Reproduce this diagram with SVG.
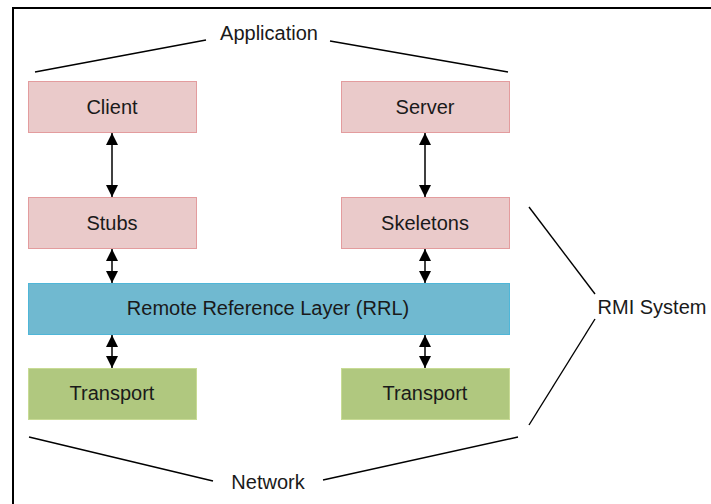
<svg xmlns="http://www.w3.org/2000/svg" width="711" height="504" viewBox="0 0 711 504">
<style>
text{font-family:"Liberation Sans",Arial,sans-serif;font-size:20px;fill:#1a1a1a;text-anchor:middle;dominant-baseline:central}
.pink{fill:#eacaca;stroke:#e39c9e;stroke-width:1}
.blue{fill:#70b9d0;stroke:#4fb6d8;stroke-width:1}
.green{fill:#b0c87f;stroke:#c8db95;stroke-width:1}
.ln{stroke:#000;stroke-width:1.4;fill:none}
.ar{stroke:#000;stroke-width:1.5;fill:none;marker-start:url(#ah);marker-end:url(#ah)}
</style>
<defs>
<marker id="ah" viewBox="0 0 12 12" refX="12" refY="6" markerWidth="12" markerHeight="12" markerUnits="userSpaceOnUse" orient="auto-start-reverse">
<path d="M0,0 L12,6 L0,12 Z" fill="#000"/>
</marker>
</defs>
<rect width="711" height="504" fill="#fff"/>
<path d="M13,504 V8 H711" stroke="#000" stroke-width="2" fill="none"/>
<g id="client"><rect class="pink" x="28.5" y="81.5" width="168" height="51"/><text x="112" y="107">Client</text></g>
<g id="server"><rect class="pink" x="341.5" y="81.5" width="168" height="51"/><text x="425" y="107">Server</text></g>
<g id="stubs"><rect class="pink" x="28.5" y="197.5" width="168" height="51"/><text x="112" y="223">Stubs</text></g>
<g id="skeletons"><rect class="pink" x="341.5" y="197.5" width="168" height="51"/><text x="425" y="223">Skeletons</text></g>
<g id="rrl"><rect class="blue" x="28.5" y="283.5" width="481" height="51"/><text x="268" y="308">Remote Reference Layer (RRL)</text></g>
<g id="transport1"><rect class="green" x="28.5" y="368.5" width="168" height="51"/><text x="112" y="393">Transport</text></g>
<g id="transport2"><rect class="green" x="341.5" y="368.5" width="168" height="51"/><text x="425" y="393">Transport</text></g>
<g id="application"><text x="269" y="33">Application</text></g>
<g id="rmi"><text x="652" y="307">RMI System</text></g>
<g id="network"><text x="268" y="482">Network</text></g>
<g id="connectors">
<line class="ar" x1="112" y1="133" x2="112" y2="197"/>
<line class="ar" x1="425" y1="133" x2="425" y2="197"/>
<line class="ar" x1="112" y1="249" x2="112" y2="283"/>
<line class="ar" x1="425" y1="249" x2="425" y2="283"/>
<line class="ar" x1="112" y1="335" x2="112" y2="368"/>
<line class="ar" x1="425" y1="335" x2="425" y2="368"/>
<line class="ln" x1="35" y1="72" x2="206" y2="40"/>
<line class="ln" x1="330" y1="41" x2="508" y2="72"/>
<line class="ln" x1="529" y1="207" x2="595" y2="294"/>
<line class="ln" x1="595" y1="319" x2="529" y2="425"/>
<line class="ln" x1="29" y1="437" x2="213" y2="481"/>
<line class="ln" x1="323" y1="480" x2="518" y2="437"/>
</g>
</svg>
